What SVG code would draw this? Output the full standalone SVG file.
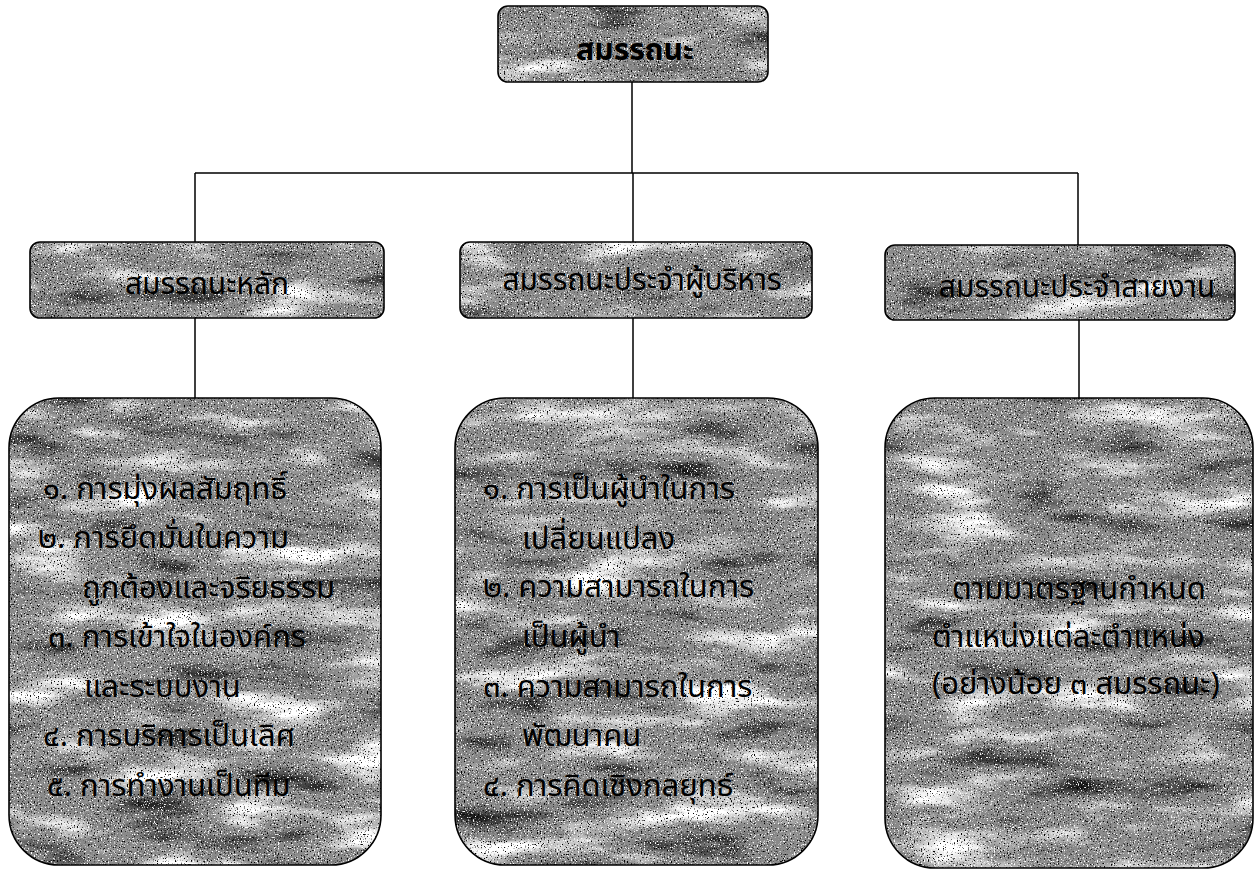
<svg xmlns="http://www.w3.org/2000/svg" width="1259" height="871" viewBox="0 0 1259 871">
<style>
.box{stroke:#000;stroke-width:1.6;fill:none}
.fillg{fill:#fff}
.t{font-family:"Noto Sans Thai","Noto Sans","DejaVu Sans","Liberation Sans",sans-serif;fill:#000}
.h{font-size:30px;text-anchor:middle}
.b{font-size:31px}
.c{stroke:#000;stroke-width:1.5;fill:none}
</style>
<defs>
<filter id="granite" x="0" y="0" width="100%" height="100%" color-interpolation-filters="sRGB">
<feFlood flood-color="#8a8a8a" result="base"/>
<feTurbulence type="fractalNoise" baseFrequency="0.009 0.035" numOctaves="4" seed="7" result="n"/>
<feColorMatrix in="n" type="matrix" values="0 0 0 0 1  0 0 0 0 1  0 0 0 0 1  4 0 0 0 -2.1" result="wh"/>
<feColorMatrix in="n" type="matrix" values="0 0 0 0 0  0 0 0 0 0  0 0 0 0 0  -3 0 0 0 1.2" result="bk"/>
<feTurbulence type="fractalNoise" baseFrequency="0.7" numOctaves="2" seed="3" result="s"/>
<feColorMatrix in="s" type="matrix" values="0 0 0 0 0  0 0 0 0 0  0 0 0 0 0  -7 0 0 0 2.7" result="sk"/>
<feColorMatrix in="s" type="matrix" values="0 0 0 0 1  0 0 0 0 1  0 0 0 0 1  7 0 0 0 -4.2" result="sw"/>
<feMerge result="m"><feMergeNode in="base"/><feMergeNode in="wh"/><feMergeNode in="bk"/><feMergeNode in="sk"/><feMergeNode in="sw"/></feMerge>
<feComposite in="m" in2="SourceGraphic" operator="in"/>
</filter>
</defs>
<rect width="1259" height="871" fill="#fff"/>
<g id="connectors">
<path class="c" d="M632 82 V173 M195 173 H1078 M195 173 V242 M633 173 V242 M1078 173 V245 M195 318 V398 M633 318 V398 M1079 320 V398"/>
</g>
<g id="n-top">
<rect class="fillg" x="498" y="6" width="270" height="76" rx="10" filter="url(#granite)"/>
<rect class="box" x="498" y="6" width="270" height="76" rx="10"/>
<text class="t h" x="635" y="60" font-size="34" font-weight="bold">สมรรถนะ</text>
</g>
<g id="n-core">
<rect class="fillg" x="30" y="242" width="354" height="76" rx="10" filter="url(#granite)"/>
<rect class="box" x="30" y="242" width="354" height="76" rx="10"/>
<text class="t h" x="207" y="294">สมรรถนะหลัก</text>
</g>
<g id="n-exec">
<rect class="fillg" x="460" y="242" width="352" height="76" rx="10" filter="url(#granite)"/>
<rect class="box" x="460" y="242" width="352" height="76" rx="10"/>
<text class="t h" x="642" y="290">สมรรถนะประจำผู้บริหาร</text>
</g>
<g id="n-func">
<rect class="fillg" x="885" y="245" width="350" height="75" rx="10" filter="url(#granite)"/>
<rect class="box" x="885" y="245" width="350" height="75" rx="10"/>
<text class="t h" x="1077" y="297">สมรรถนะประจำสายงาน</text>
</g>
<g id="n-core-list">
<rect class="fillg" x="9" y="398" width="372" height="467" rx="50" filter="url(#granite)"/>
<rect class="box" x="9" y="398" width="372" height="467" rx="50"/>
<text class="t b" x="43" y="499">๑. การมุ่งผลสัมฤทธิ์</text>
<text class="t b" x="38" y="548">๒. การยึดมั่นในความ</text>
<text class="t b" x="82" y="598">ถูกต้องและจริยธรรม</text>
<text class="t b" x="48" y="647">๓. การเข้าใจในองค์กร</text>
<text class="t b" x="84" y="697">และระบบงาน</text>
<text class="t b" x="43" y="746">๔. การบริการเป็นเลิศ</text>
<text class="t b" x="47" y="796">๕. การทำงานเป็นทีม</text>
</g>
<g id="n-exec-list">
<rect class="fillg" x="455" y="398" width="363" height="467" rx="50" filter="url(#granite)"/>
<rect class="box" x="455" y="398" width="363" height="467" rx="50"/>
<text class="t b" x="483" y="499">๑. การเป็นผู้นำในการ</text>
<text class="t b" x="522" y="549">เปลี่ยนแปลง</text>
<text class="t b" x="483" y="597">๒. ความสามารถในการ</text>
<text class="t b" x="522" y="647">เป็นผู้นำ</text>
<text class="t b" x="483" y="697">๓. ความสามารถในการ</text>
<text class="t b" x="522" y="746">พัฒนาคน</text>
<text class="t b" x="483" y="796">๔. การคิดเชิงกลยุทธ์</text>
</g>
<g id="n-func-list">
<rect class="fillg" x="885" y="398" width="368" height="470" rx="50" filter="url(#granite)"/>
<rect class="box" x="885" y="398" width="368" height="470" rx="50"/>
<text class="t b" x="952" y="599">ตามมาตรฐานกำหนด</text>
<text class="t b" x="932" y="647">ตำแหน่งแต่ละตำแหน่ง</text>
<text class="t b" x="932" y="694">(อย่างน้อย ๓ สมรรถนะ)</text>
</g>
</svg>
